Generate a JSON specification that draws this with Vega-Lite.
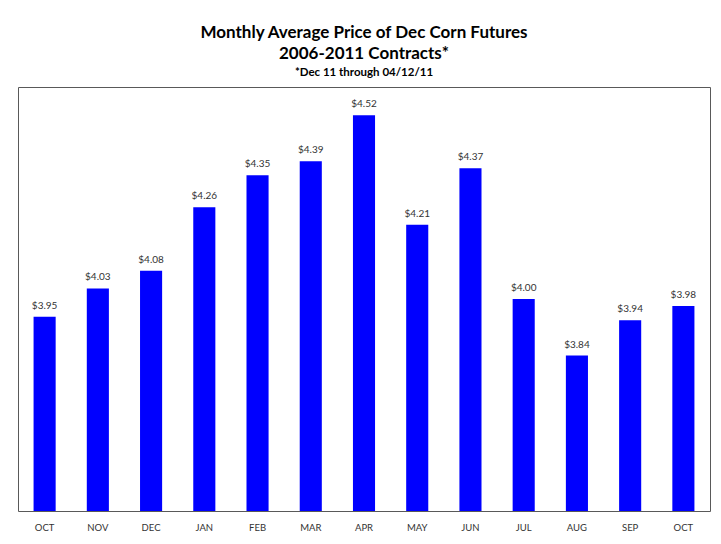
{
  "$schema": "https://vega.github.io/schema/vega-lite/v6.json",
  "width": 692,
  "height": 424,
  "autosize": {"type": "none"},
  "padding": {"left": 18, "top": 87, "right": 11, "bottom": 33},
  "background": "white",
  "config": {
    "view": {"stroke": "#595959", "strokeWidth": 1},
    "font": "Lato"
  },
  "title": {
    "text": ["Monthly Average Price of Dec Corn Futures", "2006-2011 Contracts*"],
    "subtitle": "*Dec 11 through 04/12/11",
    "anchor": "middle",
    "font": "Lato",
    "fontSize": 17,
    "fontWeight": "bold",
    "color": "#000000",
    "lineHeight": 21,
    "subtitleFont": "Lato",
    "subtitleFontSize": 11.5,
    "subtitleFontWeight": "bold",
    "subtitleColor": "#000000",
    "subtitlePadding": 4,
    "offset": 8
  },
  "data": {
    "values": [
      {"month": "OCT1", "price": 3.95},
      {"month": "NOV", "price": 4.03},
      {"month": "DEC", "price": 4.08},
      {"month": "JAN", "price": 4.26},
      {"month": "FEB", "price": 4.35},
      {"month": "MAR", "price": 4.39},
      {"month": "APR", "price": 4.52},
      {"month": "MAY", "price": 4.21},
      {"month": "JUN", "price": 4.37},
      {"month": "JUL", "price": 4.00},
      {"month": "AUG", "price": 3.84},
      {"month": "SEP", "price": 3.94},
      {"month": "OCT2", "price": 3.98}
    ]
  },
  "encoding": {
    "x": {
      "field": "month",
      "type": "nominal",
      "sort": null,
      "scale": {"paddingInner": 0.585, "paddingOuter": 0.2925},
      "axis": {
        "title": null,
        "labelAngle": 0,
        "labelExpr": "substring(datum.label, 0, 3)",
        "labelFont": "Lato",
        "labelFontSize": 9.5,
        "labelColor": "#333333",
        "labelPadding": 11,
        "ticks": false,
        "domain": false
      }
    },
    "y": {
      "field": "price",
      "type": "quantitative",
      "scale": {"domain": [3.4, 4.6], "zero": false, "nice": false},
      "axis": null
    }
  },
  "layer": [
    {
      "mark": {"type": "bar", "color": "#0000FF", "clip": true}
    },
    {
      "mark": {"type": "text", "baseline": "alphabetic", "dy": -8, "fontSize": 10, "color": "#333333", "font": "Lato"},
      "encoding": {"text": {"field": "price", "type": "quantitative", "format": "$.2f"}}
    }
  ]
}
